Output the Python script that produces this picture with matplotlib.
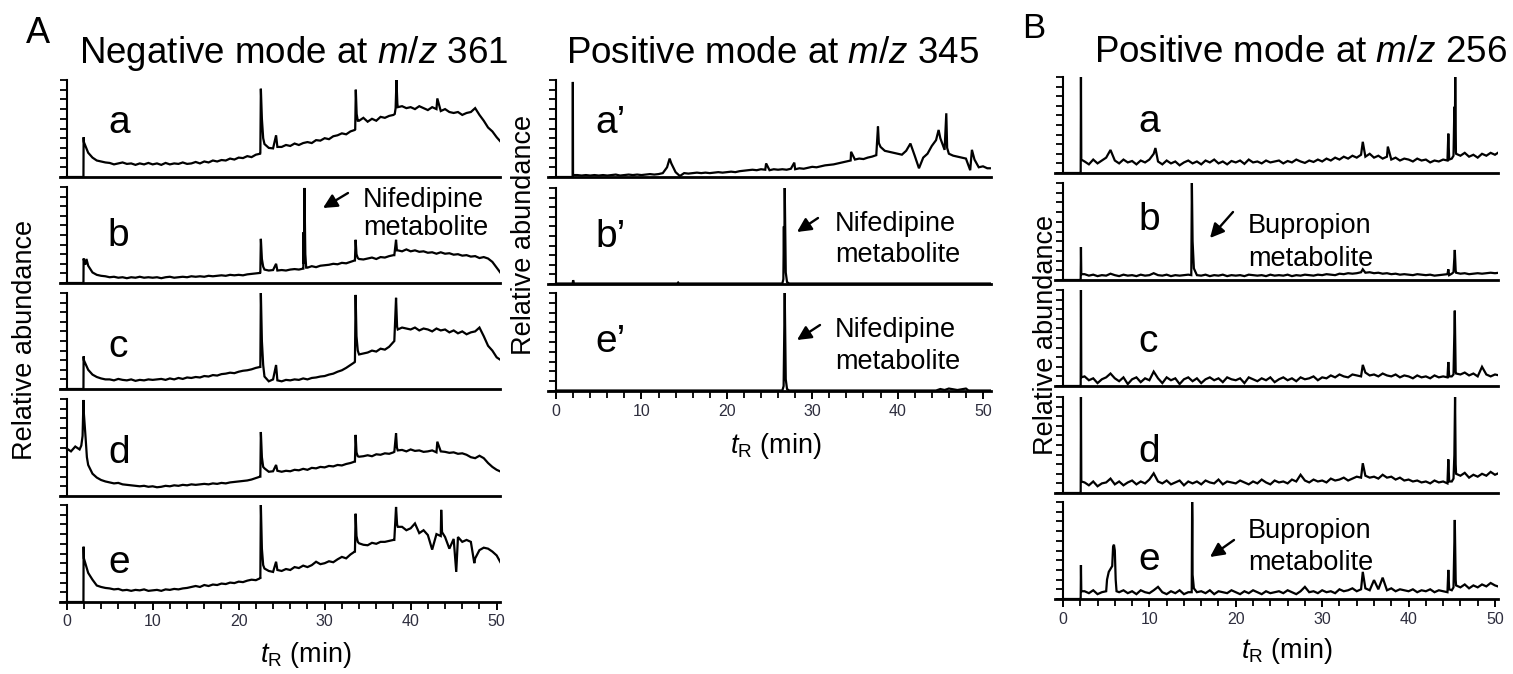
import numpy as np
import matplotlib
matplotlib.use("Agg")
import matplotlib.pyplot as plt

plt.rcParams['font.family'] = ['Liberation Sans', 'DejaVu Sans']
plt.rcParams['mathtext.fontset'] = 'custom'
plt.rcParams['mathtext.rm'] = 'Liberation Sans'
plt.rcParams['mathtext.it'] = 'Liberation Sans:italic'

# ----------------------------------------------------------------------------
# Data (retention time in min, relative abundance 0-100)
# ----------------------------------------------------------------------------
T_GRID = np.arange(0, 51, 0.5)   # 0 ... 50.5, every 0.5 min

# Panel A, negative mode m/z 361
A_a_base = [0, 0, 0, 0, 36, 25, 20, 17, 16, 15,
            14.5, 13, 14, 15, 13.5, 14, 12.5, 14, 13, 14.5,
            13, 14, 12.5, 14.5, 13, 14, 13.5, 15, 13.5, 14,
            15.5, 14, 16, 15, 17, 16, 17.5, 17, 19, 18,
            20, 19.5, 21.5, 20.5, 23, 24, 34, 30, 29.5, 31,
            31, 33, 32, 34.5, 33, 35, 36, 35, 38, 37.5,
            40, 39, 42, 43, 45, 44, 47, 48.5, 58, 61,
            57, 60, 58, 62, 61, 63, 64, 72, 73, 71,
            72, 70, 73, 71, 69, 72, 70, 68, 70, 67,
            66, 67, 64, 66, 67, 71, 64, 58, 51, 47,
            41, 36]
A_a_peaks = [(1.95, 0), (1.97, 41), (22.52, 25), (22.58, 91), (22.7, 60), (22.85, 40),
             (24.35, 43), (33.55, 49), (33.62, 90), (33.72, 65), (33.85, 58),
             (38.15, 65), (38.25, 71), (38.35, 100), (38.45, 76), (43.1, 81), (50.75, 34)]

A_b_base = [0, 0, 0, 0, 24, 18, 11, 8.5, 7.5, 7,
            6, 6.5, 5.5, 6, 5, 6, 5.5, 6.5, 5.5, 6,
            5.5, 6, 5, 6, 6.5, 5.5, 6, 6.5, 6, 7,
            6.5, 7, 6.5, 7.5, 7, 7.5, 8, 7.5, 8.5, 8,
            8.5, 8, 9, 9.5, 10, 10.5, 14, 13, 13.5, 13,
            13.5, 13, 14, 14.5, 14, 15, 16, 17.5, 16.5, 18,
            18.5, 19, 20, 19.5, 21, 20.5, 22, 23.5, 25, 24.5,
            25.5, 26.5, 25, 27, 26.5, 28, 29, 34, 33, 35,
            33, 34, 32.5, 33, 31.5, 32, 30.5, 32, 30.5, 31,
            29.5, 30, 28.5, 29, 27.5, 28, 26, 27, 25.5, 22,
            16, 10]
A_b_peaks = [(1.95, 0), (1.97, 25.5), (2.15, 19), (2.3, 25), (22.52, 11), (22.58, 46),
             (22.7, 25), (22.85, 17), (24.35, 20), (27.52, 15), (27.55, 53), (27.58, 20),
             (27.65, 99), (27.75, 30), (27.85, 16), (33.52, 23.5), (33.6, 45), (33.7, 30),
             (33.85, 26), (38.1, 29), (38.3, 45), (38.4, 34), (50.75, 6.5)]

A_c_base = [0, 0, 0, 0, 30, 20, 15, 12.5, 11, 10,
            10, 9, 10.5, 9.5, 9, 10, 8.5, 9.5, 9, 10,
            9.5, 10, 10.5, 9.5, 11, 10, 11.5, 10.5, 12, 11.5,
            12.5, 12, 13.5, 13, 14.5, 14, 15.5, 16, 17, 16.5,
            18, 19, 19.5, 20.5, 22, 23, 13, 8, 10, 9,
            8, 9.5, 9, 10, 9.5, 11, 10, 11.5, 12, 13,
            13.5, 15, 16, 18, 19.5, 22, 25, 28, 36, 37,
            38, 40, 39, 42, 41, 44, 49, 62, 64, 63,
            62, 64, 61, 63, 62, 60, 63, 61, 62, 59,
            61, 58, 60, 57, 59, 60, 64, 55, 45, 40,
            33, 30]
A_c_peaks = [(1.95, 0), (1.97, 34), (22.52, 23), (22.58, 100), (22.7, 50), (22.85, 25),
             (24.35, 25), (33.52, 29), (33.6, 98), (33.7, 55), (33.85, 40),
             (38.1, 50), (38.3, 95), (38.42, 65), (50.75, 27)]

A_d_base = [49, 46, 51, 48, 85, 32, 23, 19, 16.5, 15,
            14, 13, 13.5, 12, 11.5, 11, 10.5, 10, 10.5, 9.5,
            10, 9, 9.5, 10.5, 10, 11, 10.5, 11.5, 11, 12,
            11.5, 12, 12.5, 12, 13, 12.5, 13.5, 13, 14, 14.5,
            15, 15.5, 16, 17, 18.5, 20, 28.5, 25, 25.5, 26,
            25, 26, 25.5, 27, 26.5, 28, 27, 29, 28.5, 30,
            29.5, 31, 30.5, 32, 31.5, 33, 34, 35.5, 40.5, 41,
            42, 41, 43, 42.5, 44, 43.5, 45, 47, 47.5, 46,
            48, 46.5, 47, 45.5, 46, 47, 45, 46, 45.5, 44.5,
            45, 43.5, 44, 42.5, 40, 39, 41.5, 39, 34, 30,
            27, 25]
A_d_peaks = [(1.7, 52), (1.85, 62), (1.95, 99), (2.2, 60), (2.35, 40), (22.52, 20),
             (22.58, 66), (22.7, 40), (22.85, 30), (24.35, 32), (33.52, 35.5), (33.6, 63),
             (33.7, 45), (33.85, 41), (38.1, 45.5), (38.3, 64.6), (38.4, 50), (43.1, 56),
             (50.8, 23)]

A_e_base = [0, 0, 0, 0, 45, 30, 23, 17, 15.5, 14.5,
            14, 13, 13.5, 12, 12.5, 11.5, 12.5, 12, 13, 11.5,
            12, 12.5, 11.5, 13, 12.5, 13.5, 13, 14, 14.5, 15.5,
            16.5, 15.5, 17.5, 16.5, 18, 17.5, 19, 18.5, 20, 19.5,
            21, 20.5, 22, 23, 22.5, 24.5, 34.5, 32, 31, 33,
            32, 34, 33, 36, 35, 37.5, 36, 38, 41.5, 39,
            40, 42, 41, 44, 46.5, 45, 49, 52, 60.5, 59,
            58.5, 61, 60, 62, 62, 63, 64, 77.5, 77.5, 74,
            76, 81, 71, 74, 69, 54, 70, 68, 67, 55,
            65, 67, 62, 64, 62, 45, 53.5, 56, 55, 52,
            48, 40]
A_e_peaks = [(1.95, 0), (1.97, 57), (22.52, 24), (22.58, 100), (22.7, 55), (22.85, 38),
             (24.35, 41.5), (33.52, 52), (33.6, 91), (33.7, 68), (33.85, 62),
             (38.1, 64), (38.3, 98), (38.42, 80), (43.55, 95), (43.65, 72),
             (45.3, 31), (47.4, 40), (50.75, 34)]

# Panel A, positive mode m/z 345
Ap_a_base = [0, 0, 0, 0, 2, 2, 1.5, 2, 1.5, 2,
             1.5, 2, 1.5, 2, 2.5, 1.5, 2, 2.5, 2, 2.5,
             2, 2.5, 3, 2.5, 3, 4, 10, 14, 5, 1,
             4, 3.5, 4, 4.5, 4, 4.5, 4, 4.5, 5, 4.5,
             5, 5.5, 5, 6, 6.5, 7, 7.5, 7, 8, 7.5,
             7, 8, 7.5, 8, 7.5, 8.5, 8, 9, 8.5, 9.5,
             10.5, 10, 11, 12, 12.5, 13, 14, 15, 16, 17,
             18, 19, 18.5, 20, 21, 22.5, 31, 27, 26, 25,
             24, 23, 27, 34.5, 22, 9, 20, 24, 32, 38,
             40, 28, 24, 22, 21, 20, 19, 7, 18, 10,
             11, 9]
Ap_a_peaks = [(1.95, 0), (1.97, 98), (1.99, 2), (13.3, 19), (24.6, 14), (27.9, 14.8),
              (34.55, 26), (37.7, 52), (37.8, 35), (44.8, 48.5), (45.7, 65.7), (45.8, 30),
              (48.7, 28), (50.8, 9)]

Ap_b_t = [0, 1.95, 2.0, 2.1, 14.2, 14.3, 14.4, 26.5, 26.62, 26.68, 26.72, 26.78, 26.9, 27.05, 27.3, 51]
Ap_b_y = [0.5, 0.5, 4, 0.5, 0.5, 1.5, 0.5, 0.5, 5, 60, 20, 100, 12, 2, 0.5, 0.5]

Ap_e_t = [0, 26.5, 26.65, 26.78, 26.9, 27.05, 27.3, 44.5, 45, 45.5, 46, 47, 48, 48.3, 51]
Ap_e_y = [0.5, 0.5, 5, 100, 12, 2, 0.5, 0.5, 2, 1, 2.5, 1, 2.5, 0.5, 0.5]

# Panel B, positive mode m/z 256
B_a_base = [0, 0, 0, 0, 0, 12, 9, 14, 10, 13,
            16, 24, 13, 10, 14, 11, 12.5, 9, 13, 11,
            14, 20, 12, 9, 13, 10, 12, 8, 11, 13,
            10, 12, 9, 13, 11, 14, 10, 12, 9, 12.5,
            11, 13, 9.5, 14, 11, 12, 10, 13, 11, 12,
            13, 10, 12.5, 11, 14, 12, 10.5, 13, 11.5, 14,
            12, 15, 13, 16, 14, 17, 15, 18, 16, 19,
            17, 20, 16, 18, 15, 17, 14, 16, 13, 15,
            14, 12, 15, 13, 14, 11, 13, 12, 14, 13,
            15, 20, 18, 21, 17, 19, 16, 20, 18, 21,
            19, 22]
B_a_peaks = [(2.05, 0), (2.08, 105), (2.12, 14), (10.7, 26), (34.7, 32.5), (37.6, 27.5),
             (44.6, 41), (44.7, 14), (45.2, 18), (45.3, 69), (45.35, 30), (45.4, 100),
             (45.45, 50), (45.48, 22)]

B_b_base = [0, 0, 0, 0, 0, 6, 4.5, 5.5, 4, 5,
            4.5, 6.5, 5, 4, 5.5, 4.5, 5, 4, 5.5, 4.5,
            5, 7, 5, 4.5, 5.5, 4, 5, 4.5, 5, 5.5,
            40, 5, 4.5, 5.5, 4, 5, 4.5, 5.5, 4, 5,
            4.5, 5, 4, 5.5, 5, 4.5, 5, 4, 5.5, 4.5,
            5, 4.5, 5.5, 4, 5, 4.5, 5.5, 5, 4.5, 5.5,
            5, 6, 5.5, 5, 6.5, 6, 7, 6.5, 7, 8,
            7.5, 8, 7, 7.5, 6.5, 7, 6, 6.5, 5.5, 6,
            5.5, 5, 6, 5.5, 5, 5.5, 4.5, 5, 5.5, 6,
            6.5, 7.5, 6.5, 7, 6, 6.5, 7, 6.5, 7, 7.5,
            7, 7.5]
B_b_peaks = [(2.05, 0), (2.08, 34), (2.12, 6), (14.85, 5), (14.92, 100), (14.98, 55),
             (15.15, 12), (34.7, 11), (44.6, 11), (44.7, 5), (45.2, 8), (45.35, 31), (45.45, 10)]

B_c_base = [0, 0, 0, 0, 0, 10, 6, 8, 3, 7,
            9, 13, 8, 5, 9, 2, 7, 9, 4, 8,
            6, 15, 8, 3, 9, 6, 8, 2, 7, 9,
            5, 8, 3, 7, 9, 6, 8, 4, 9, 7,
            6, 8, 3, 9, 7, 5, 8, 6, 9, 4,
            7, 9, 6, 8, 5, 9, 7, 8, 10, 6,
            9, 8, 11, 9, 12, 10, 9, 12, 11, 10,
            14, 11, 12, 10, 13, 11, 10, 12, 9, 11,
            10, 8, 11, 9, 10, 8, 11, 9, 10, 9,
            10, 13, 12, 14, 11, 13, 10, 20, 12, 10,
            12, 11]
B_c_peaks = [(2.05, 0), (2.08, 105), (2.12, 9), (34.7, 22), (44.6, 25), (44.7, 10),
             (45.2, 12), (45.35, 78.5), (45.45, 15)]

B_d_base = [0, 0, 0, 0, 0, 11, 8, 12, 7, 10,
            11, 15, 9, 12, 8, 11, 13, 9, 12, 10,
            14, 20.5, 12, 10, 13, 9, 11, 13, 8, 12,
            10, 12, 9, 13, 11, 10, 14, 9, 12, 11,
            10, 13, 11, 9, 12, 10, 14, 11, 9, 13,
            11, 12, 10, 14, 12, 19, 13, 11, 14, 12,
            13, 11, 15, 13, 14, 16, 13, 15, 17, 16,
            18, 16, 17, 15, 19, 16, 17, 14, 16, 13,
            14, 12, 13, 11, 12, 10, 13, 11, 12, 10,
            12, 20, 18, 21, 16, 19, 17, 20, 18, 22,
            19, 21]
B_d_peaks = [(2.05, 0), (2.08, 105), (2.12, 12), (34.7, 31), (44.6, 35), (44.7, 12),
             (45.2, 15), (45.3, 39.5), (45.38, 100), (45.45, 30)]

B_e_base = [0, 0, 0, 0, 0, 8, 6, 9, 5, 7,
            8, 31, 50, 7, 9, 6, 8, 5, 9, 7,
            6, 9, 12.5, 7, 5, 8, 6, 9, 5, 7,
            25, 7, 8, 6, 9, 5, 8, 7, 6, 9,
            7, 5, 8, 6, 9, 7, 5, 8, 6, 7,
            8, 6, 9, 7, 5, 8, 12.5, 7, 8, 6,
            9, 7, 8, 6, 10, 8, 9, 11, 8, 10,
            11, 9, 19.5, 10, 22, 9, 11, 8, 10, 9,
            8, 10, 7, 9, 8, 10, 7, 9, 8, 7,
            9, 14, 12, 15, 11, 14, 12, 15, 13, 16.5,
            14, 12.5]
B_e_peaks = [(2.05, 0), (2.08, 35), (2.12, 8), (5.1, 20), (5.3, 28), (5.7, 34), (5.8, 54),
             (5.9, 56), (6.1, 20), (6.2, 8), (14.9, 7), (14.95, 100), (14.98, 81),
             (15.15, 11), (34.7, 28), (44.6, 30), (44.7, 10), (45.2, 12), (45.35, 81.5),
             (45.45, 20)]

# ----------------------------------------------------------------------------
# Layout helpers (pixel positions on a 1513 x 674 canvas)
# ----------------------------------------------------------------------------
W, H = 1513, 674


def merge(base, peaks):
    t = np.concatenate([T_GRID, [p[0] for p in peaks]])
    y = np.concatenate([np.asarray(base, float), [p[1] for p in peaks]])
    order = np.argsort(t, kind="stable")
    return t[order], y[order]


def make_axes(fig, left, right, top, bottom, xlim, show_x):
    ax = fig.add_axes([left / W, 1 - bottom / H, (right - left) / W, (bottom - top) / H])
    ax.set_facecolor("none")
    ax.set_xlim(*xlim)
    ax.set_ylim(0, 100)
    ax.spines["top"].set_visible(False)
    ax.spines["right"].set_visible(False)
    ax.spines["left"].set_position(("data", 0))
    ax.spines["left"].set_linewidth(1.5)
    ax.spines["bottom"].set_linewidth(2.0)
    ax.set_yticks(np.arange(0, 101, 10))
    ax.set_yticklabels([])
    ax.tick_params(axis="y", direction="out", length=5, width=1.3)
    if show_x:
        ax.set_xticks([0, 10, 20, 30, 40, 50])
        ax.set_xticks(np.arange(0, 51, 2), minor=True)
        ax.tick_params(axis="x", which="major", direction="out", length=6, width=1.4,
                       labelsize=11.5, labelcolor="#2e2e3e", pad=3)
        ax.tick_params(axis="x", which="minor", direction="out", length=5, width=1.3)
    else:
        ax.set_xticks([])
    return ax


def arrow(fig, tail, head):
    ax = fig.axes[0]
    ax.annotate("", xy=(head[0], H - head[1]), xytext=(tail[0], H - tail[1]),
                xycoords="figure pixels", textcoords="figure pixels",
                annotation_clip=False,
                arrowprops=dict(arrowstyle="-|>", color="black", lw=1.7,
                                mutation_scale=21, shrinkA=0, shrinkB=0))


def ftext(fig, x, y, s, size, **kw):
    fig.text(x / W, 1 - y / H, s, fontsize=size, **kw)


fig = plt.figure(figsize=(W / 100, H / 100), dpi=100)
LINE = dict(color="black", lw=1.6, solid_joinstyle="miter")
LETTER = 28

# --- Panel A, negative mode -------------------------------------------------
A_rows = [("a", A_a_base, A_a_peaks, 80, 177, 0.45),
          ("b", A_b_base, A_b_peaks, 187, 283, 0.39),
          ("c", A_c_base, A_c_peaks, 293, 389, 0.33),
          ("d", A_d_base, A_d_peaks, 399, 496, 0.34),
          ("e", A_e_base, A_e_peaks, 505, 602, 0.30)]
for i, (lab, base, peaks, top, bot, ly) in enumerate(A_rows):
    ax = make_axes(fig, 59.8, 500.1, top, bot, (-0.8, 50.4), i == len(A_rows) - 1)
    t, y = merge(base, peaks)
    ax.plot(t, y, **LINE)
    ax.text(4.8, ly * 100, lab, fontsize=LETTER, va="baseline", ha="left")

# --- Panel A, positive mode -------------------------------------------------
Ap_rows = [("a\u2019", merge(Ap_a_base, Ap_a_peaks), 80, 177, 0.45),
           ("b\u2019", (Ap_b_t, Ap_b_y), 188, 284, 0.385),
           ("e\u2019", (Ap_e_t, Ap_e_y), 293, 391, 0.40)]
for i, (lab, (t, y), top, bot, ly) in enumerate(Ap_rows):
    ax = make_axes(fig, 547.5, 990.7, top, bot, (-1.0, 50.9), i == len(Ap_rows) - 1)
    ax.plot(t, y, **LINE)
    ax.text(4.6, ly * 100, lab, fontsize=LETTER, va="baseline", ha="left")

# --- Panel B -----------------------------------------------------------------
B_rows = [("a", B_a_base, B_a_peaks, 77, 173, 0.43),
          ("b", B_b_base, B_b_peaks, 183, 280, 0.52),
          ("c", B_c_base, B_c_peaks, 290, 386, 0.35),
          ("d", B_d_base, B_d_peaks, 397, 493, 0.32),
          ("e", B_e_base, B_e_peaks, 502, 599, 0.30)]
for i, (lab, base, peaks, top, bot, ly) in enumerate(B_rows):
    ax = make_axes(fig, 1055.2, 1498.0, top, bot, (-0.9, 50.35), i == len(B_rows) - 1)
    t, y = merge(base, peaks)
    ax.plot(t, y, **LINE)
    ax.text(8.7, ly * 100, lab, fontsize=LETTER, va="baseline", ha="left")

# --- Titles, panel letters, axis labels ------------------------------------
TITLE = 26.5
ftext(fig, 294, 63, "Negative mode at $m/z$ 361", TITLE, ha="center", va="baseline")
ftext(fig, 773, 63, "Positive mode at $m/z$ 345", TITLE, ha="center", va="baseline")
ftext(fig, 1301, 62, "Positive mode at $m/z$ 256", TITLE, ha="center", va="baseline")
ftext(fig, 26, 43, "A", 26, ha="left", va="baseline")
ftext(fig, 1022, 38, "B", 25, ha="left", va="baseline")

LAB = 19.5
for x, y in [(25, 340), (524, 235), (1046, 335)]:
    ftext(fig, x, y, "Relative abundance", LAB, rotation=90, ha="center", va="center")
for x, y in [(306, 662), (776, 453), (1287, 658)]:
    ftext(fig, x, y, r"$t_\mathrm{R}$ (min)", LAB, ha="center", va="baseline")

# --- Metabolite annotations --------------------------------------------------
NOTE = 19.5
notes = [("Nifedipine", "metabolite", 363, 207, 235, (348, 193), (323, 208)),
         ("Nifedipine", "metabolite", 835, 231, 262, (818, 218), (797, 232)),
         ("Nifedipine", "metabolite", 835, 337, 369, (820, 325), (797, 340)),
         ("Bupropion", "metabolite", 1248, 233, 266, (1233, 212), (1210, 238)),
         ("Bupropion", "metabolite", 1248, 538, 570, (1234, 540), (1210, 557))]
for line1, line2, x, y1, y2, tail, head in notes:
    ftext(fig, x, y1, line1, NOTE, ha="left", va="baseline")
    ftext(fig, x, y2, line2, NOTE, ha="left", va="baseline")
    arrow(fig, tail, head)

fig.savefig("out.png", dpi=100, facecolor="white")
